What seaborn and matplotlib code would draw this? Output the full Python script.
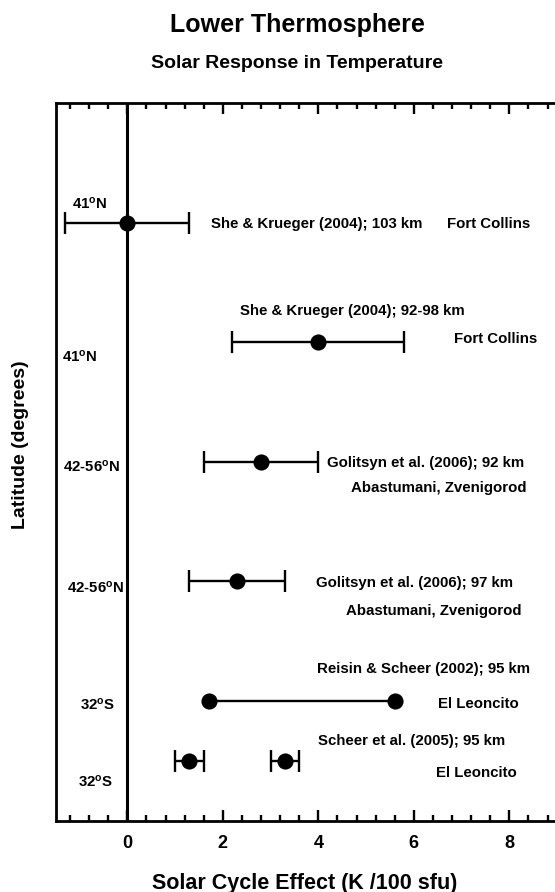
import numpy as np
import pandas as pd
import matplotlib
matplotlib.use("Agg")
import matplotlib.pyplot as plt
from matplotlib.ticker import MultipleLocator, FixedLocator
import seaborn as sns

# Solar cycle response of lower-thermosphere temperature (K per 100 sfu)
studies = ["She & Krueger (2004); 103 km", "She & Krueger (2004); 92-98 km",
           "Golitsyn et al. (2006); 92 km", "Golitsyn et al. (2006); 97 km",
           "Reisin & Scheer (2002); 95 km", "Scheer et al. (2005); 95 km"]
sites = ["Fort Collins", "Fort Collins", "Abastumani, Zvenigorod",
         "Abastumani, Zvenigorod", "El Leoncito", "El Leoncito"]
latitudes = ["41", "41", "42-56", "42-56", "32", "32"]
hemispheres = ["N", "N", "N", "N", "S", "S"]
x_ticks = [0, 2, 4, 6, 8]

# one entry per plotted point
point_study = [0, 1, 2, 3, 4, 4, 5, 5]
point_effect = [0.0, 4.0, 2.8, 2.3, 1.7, 5.6, 1.3, 3.3]
point_error = [1.3, 1.8, 1.2, 1.0, np.nan, np.nan, 0.3, 0.3]

# vertical slot of each study inside the panel
row_level = [6.0, 5.0, 4.0, 3.0, 2.0, 1.5]

# text placement per study: (x, dy) for reference, site and latitude
study_pos = [(1.75, 0.0), (2.35, 0.27), (4.19, 0.0), (3.95, 0.0), (3.97, 0.28), (3.99, 0.18)]
site_pos = [(6.69, 0.0), (6.84, 0.04), (4.68, -0.21), (4.58, -0.23), (6.51, -0.01), (6.46, -0.09)]
lat_pos = [(-1.16, 0.17), (-1.37, -0.11), (-1.35, -0.03), (-1.27, -0.04), (-1.0, -0.02), (-1.03, -0.16)]

df = pd.DataFrame({
    "study": point_study,
    "effect": point_effect,
    "error": point_error,
})
df["level"] = [row_level[i] for i in df["study"]]

sns.set_theme(style="ticks")
plt.rcParams["font.family"] = ["Liberation Sans", "DejaVu Sans"]
plt.rcParams["font.weight"] = "bold"
plt.rcParams["mathtext.default"] = "regular"
for key in ["text.color", "axes.labelcolor", "xtick.color", "ytick.color",
            "axes.edgecolor"]:
    plt.rcParams[key] = "black"

fig = plt.figure(figsize=(5.55, 8.92), dpi=100)
ax = fig.add_axes([0.1004, 0.0799, 0.9894, 0.8046])

# zero-response reference line
ax.axvline(0, color="black", lw=2.2, zorder=1)

# error bars
eb = df.dropna(subset=["error"])
ax.errorbar(eb["effect"], eb["level"], xerr=eb["error"], fmt="none",
            ecolor="black", elinewidth=1.7, capsize=7.8, capthick=1.7, zorder=2)

# range estimate drawn as a connected pair
rng = df[df["error"].isna()]
sns.lineplot(data=rng, x="effect", y="level", color="black", lw=1.7,
             estimator=None, sort=True, ax=ax, zorder=2)

sns.scatterplot(data=df, x="effect", y="level", color="black", s=135,
                edgecolor="black", linewidth=0, ax=ax, zorder=3, legend=False)

txt = dict(fontsize=10.8, fontweight="bold", ha="left", va="center_baseline",
           color="black")
for i in range(len(studies)):
    y0 = row_level[i]
    ax.text(study_pos[i][0], y0 + study_pos[i][1], studies[i], **txt)
    ax.text(site_pos[i][0], y0 + site_pos[i][1], sites[i], **txt)
    ax.text(lat_pos[i][0], y0 + lat_pos[i][1],
            latitudes[i] + r"$^{\mathregular{o}}$" + hemispheres[i], **txt)

ax.set_xlim(-1.5, 10)
ax.set_ylim(1, 7)
ax.set_yticks([])
ax.xaxis.set_major_locator(FixedLocator(x_ticks))
ax.xaxis.set_minor_locator(MultipleLocator(0.4))
ax.tick_params(axis="x", which="both", direction="in", top=True, bottom=True,
               width=1.7, color="black")
ax.tick_params(axis="x", which="major", length=7.7, labelsize=13, pad=10)
ax.tick_params(axis="x", which="minor", length=4)
for lab in ax.get_xticklabels():
    lab.set_fontweight("bold")
for sp in ax.spines.values():
    sp.set_linewidth(2.0)
    sp.set_color("black")
ax.set_xlabel("")
ax.set_ylabel("")

fig.text(297 / 555, 1 - 25 / 892, "Lower Thermosphere", ha="center", va="center",
         fontsize=18, fontweight="bold")
fig.text(297 / 555, 1 - 63 / 892, "Solar Response in Temperature", ha="center",
         va="center", fontsize=14, fontweight="bold")
fig.text(305 / 555, 1 - 883 / 892, "Solar Cycle Effect (K /100 sfu)", ha="center",
         va="center", fontsize=15.5, fontweight="bold")
fig.text(21 / 555, 1 - 445 / 892, "Latitude (degrees)", ha="center", va="center",
         rotation=90, fontsize=14, fontweight="bold")

fig.savefig("out.png", dpi=100)
